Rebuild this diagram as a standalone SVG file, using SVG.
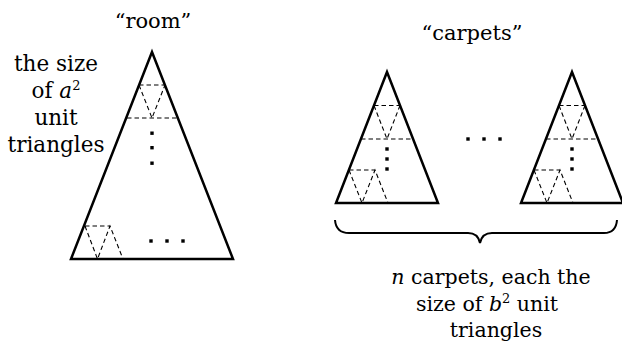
<svg xmlns="http://www.w3.org/2000/svg" width="622" height="347" viewBox="0 0 622 347">
<style>
.lbl{font-family:"DejaVu Serif","Liberation Serif",serif;font-size:20.5px;fill:#000;text-anchor:middle}
.big{font-size:21.5px}
.ttl{font-size:21px}
.it{font-style:italic}
.sup{font-size:13px}
.tri{fill:none;stroke:#000;stroke-width:2.5;stroke-linejoin:miter}
.dash{fill:none;stroke:#000;stroke-width:1.1;stroke-dasharray:4.5 3}
.dot{fill:#000}
.brace{fill:none;stroke:#000;stroke-width:2}
</style>
<rect width="622" height="347" fill="#fff"/>
<g id="room">
<polygon class="tri" points="152,52 233,259 71,259"/>
<path class="dash" d="M139,85 H165 M127,118 H177 M139,85 L152,118 L165,85 M85,226 H110 M85,226 L97.5,259 L110,226 L123,259"/>
<rect class="dot" x="150.3" y="131.5" width="3.4" height="3.4"/>
<rect class="dot" x="150.3" y="146" width="3.4" height="3.4"/>
<rect class="dot" x="150.3" y="161.5" width="3.4" height="3.4"/>
<rect class="dot" x="149.3" y="239.3" width="3.4" height="3.4"/>
<rect class="dot" x="165.3" y="239.3" width="3.4" height="3.4"/>
<rect class="dot" x="181.3" y="239.3" width="3.4" height="3.4"/>
<text class="lbl ttl" x="153" y="28">“room”</text>
</g>
<g id="room-size-label">
<text class="lbl big" x="56" y="71">the size</text>
<text class="lbl big" x="56" y="98">of <tspan class="it">a</tspan><tspan class="sup" dy="-8">2</tspan></text>
<text class="lbl big" x="56" y="125">unit</text>
<text class="lbl big" x="56" y="152">triangles</text>
</g>
<g id="carpet-1">
<polygon class="tri" points="387,72 438,203 336,203"/>
<path class="dash" d="M374,105.5 H400 M361,139 H413 M374,105.5 L387,139 L400,105.5 M349,170 H375 M349,170 L362,203 L375,170 L388,203"/>
<rect class="dot" x="385.3" y="147.3" width="3.4" height="3.4"/>
<rect class="dot" x="385.3" y="157.3" width="3.4" height="3.4"/>
<rect class="dot" x="385.3" y="167.3" width="3.4" height="3.4"/>
</g>
<g id="carpet-dots">
<rect class="dot" x="466.3" y="137.3" width="3.4" height="3.4"/>
<rect class="dot" x="482.3" y="137.3" width="3.4" height="3.4"/>
<rect class="dot" x="498.3" y="137.3" width="3.4" height="3.4"/>
</g>
<g id="carpet-n" transform="translate(185,0)">
<polygon class="tri" points="387,72 438,203 336,203"/>
<path class="dash" d="M374,105.5 H400 M361,139 H413 M374,105.5 L387,139 L400,105.5 M349,170 H375 M349,170 L362,203 L375,170 L388,203"/>
<rect class="dot" x="385.3" y="147.3" width="3.4" height="3.4"/>
<rect class="dot" x="385.3" y="157.3" width="3.4" height="3.4"/>
<rect class="dot" x="385.3" y="167.3" width="3.4" height="3.4"/>
</g>
<g id="carpets-title">
<text class="lbl ttl" x="472" y="40">“carpets”</text>
</g>
<g id="connectors">
<path class="brace" d="M335,220 Q336,233 349,233 H468 Q478,233 480,243 Q482,233 492,233 H604 Q616,233 617,220"/>
</g>
<g id="carpets-label">
<text class="lbl" x="491" y="284"><tspan class="it">n</tspan> carpets, each the</text>
<text class="lbl" x="487" y="311">size of <tspan class="it">b</tspan><tspan class="sup" dy="-8">2</tspan><tspan dy="8"> unit</tspan></text>
<text class="lbl" x="496" y="337">triangles</text>
</g>
</svg>
